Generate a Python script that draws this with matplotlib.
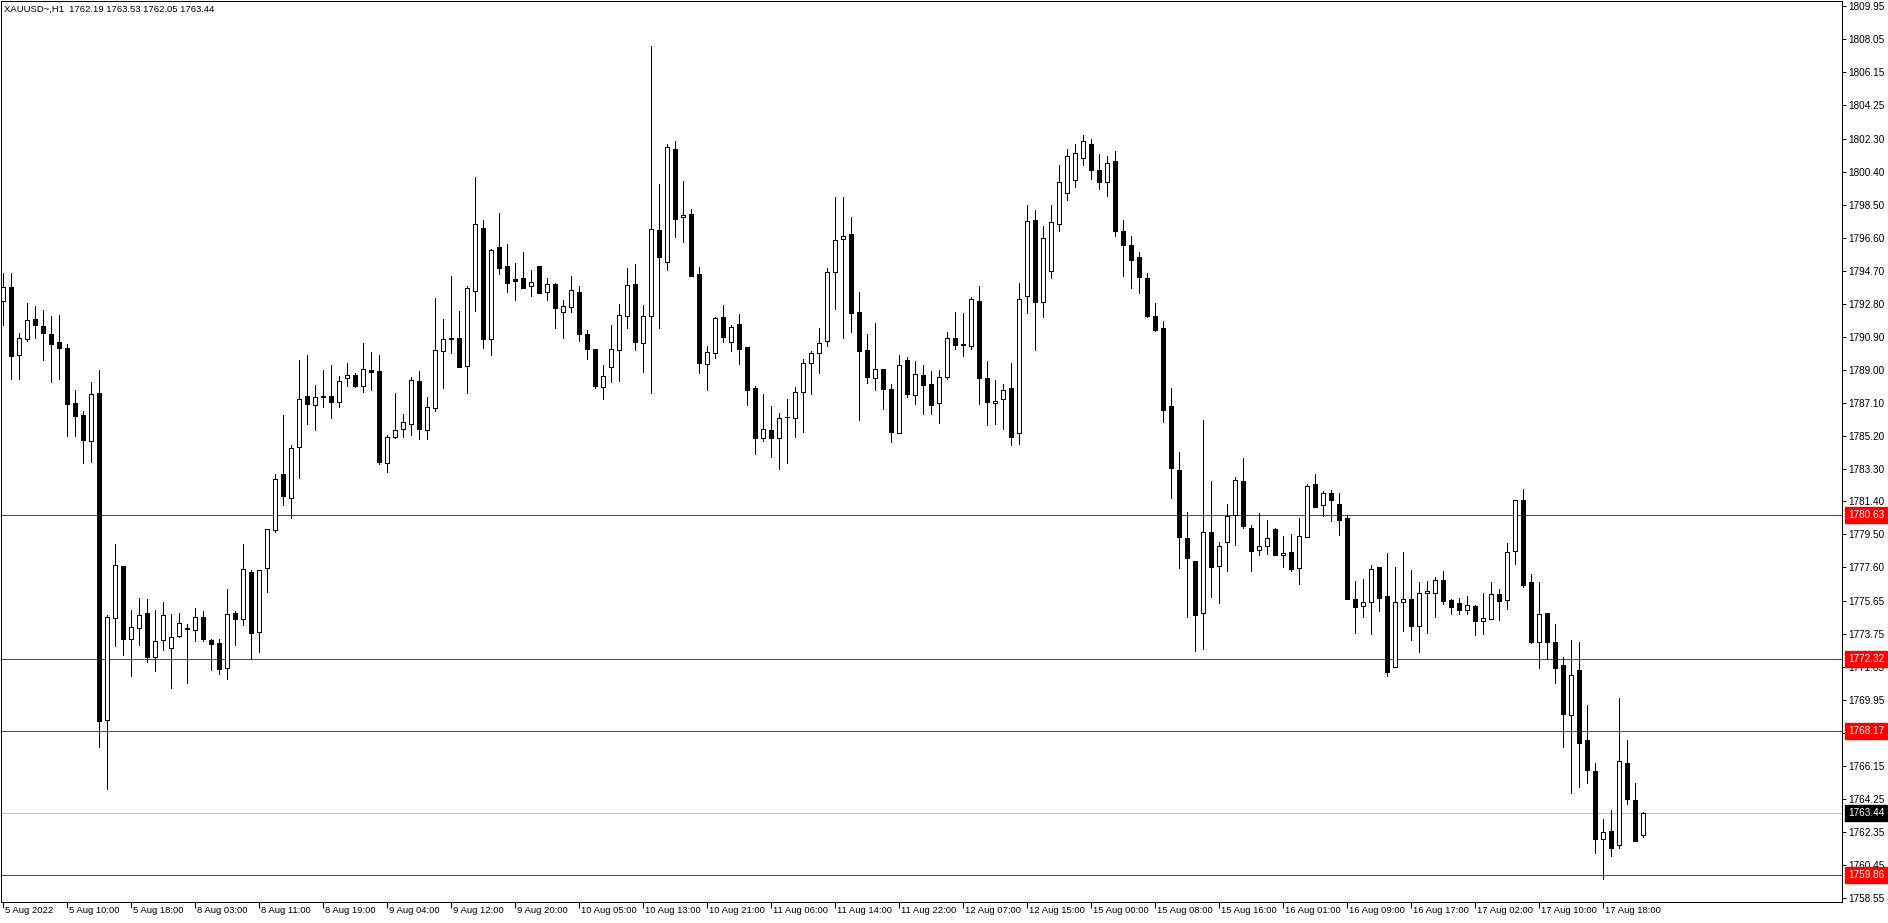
import numpy as np
import matplotlib
matplotlib.use("Agg")
import matplotlib.pyplot as plt
from matplotlib.transforms import blended_transform_factory

# XAUUSD H1 candles, 5 Aug 02:00 .. 17 Aug 23:00
opens = [1792.94, 1793.77, 1789.83, 1790.76, 1791.91, 1791.49, 1791.06, 1790.60, 1790.24, 1787.10,
         1786.41, 1784.88, 1787.67, 1768.80, 1774.67, 1777.70, 1773.47, 1774.10, 1774.97, 1772.46,
         1773.41, 1772.95, 1773.62, 1774.10, 1773.98, 1774.73, 1773.44, 1773.24, 1771.80, 1774.97,
         1774.63, 1777.33, 1773.88, 1777.56, 1779.75, 1783.00, 1781.60, 1784.53, 1787.48, 1786.98,
         1787.48, 1787.48, 1787.13, 1788.51, 1788.69, 1788.05, 1788.97, 1788.92, 1783.63, 1785.11,
         1785.59, 1785.88, 1788.34, 1785.50, 1786.77, 1790.07, 1790.80, 1790.80, 1789.23, 1793.55,
         1797.14, 1790.74, 1796.06, 1794.97, 1794.20, 1794.26, 1793.84, 1794.97, 1793.45, 1793.91,
         1792.30, 1792.62, 1793.49, 1791.03, 1790.17, 1787.98, 1789.13, 1790.13, 1792.11, 1793.91,
         1790.55, 1792.11, 1797.02, 1795.18, 1801.71, 1797.77, 1797.95, 1794.49, 1789.30, 1789.97,
         1792.05, 1790.61, 1791.61, 1790.30, 1787.92, 1785.04, 1785.52, 1785.04, 1786.25, 1786.19,
         1787.73, 1789.36, 1789.93, 1790.65, 1794.60, 1796.50, 1796.79, 1792.30, 1790.11, 1788.50,
         1789.01, 1787.86, 1785.33, 1789.55, 1787.54, 1788.69, 1788.17, 1787.09, 1788.55, 1790.80,
         1790.45, 1790.36, 1792.95, 1788.50, 1787.05, 1787.29, 1787.92, 1785.33, 1793.22, 1797.60,
         1792.87, 1794.66, 1797.40, 1799.20, 1799.90, 1801.20, 1802.00, 1800.50, 1799.80, 1801.00,
         1797.00, 1796.20, 1795.50, 1794.26, 1792.07, 1791.38, 1786.88, 1783.20, 1779.28, 1777.95,
         1774.97, 1779.62, 1777.66, 1779.05, 1780.60, 1782.56, 1779.90, 1778.58, 1778.81, 1779.81,
         1778.29, 1778.48, 1777.54, 1779.33, 1782.40, 1781.17, 1781.88, 1781.25, 1780.44, 1775.78,
         1775.35, 1775.58, 1777.62, 1775.93, 1771.84, 1775.58, 1775.78, 1774.20, 1776.10, 1776.12,
         1776.89, 1775.73, 1775.54, 1775.12, 1775.39, 1774.54, 1774.62, 1776.06, 1775.70, 1778.54,
         1781.48, 1776.75, 1773.30, 1774.98, 1773.30, 1771.99, 1769.07, 1771.70, 1767.67, 1765.88,
         1761.93, 1762.41, 1761.58, 1766.32, 1764.19, 1762.19]
highs = [1794.56, 1794.56, 1791.12, 1792.84, 1792.64, 1792.44, 1792.08, 1792.14, 1790.46, 1787.83,
         1786.60, 1788.31, 1788.98, 1774.83, 1778.93, 1777.70, 1775.13, 1775.82, 1775.76, 1775.13,
         1775.58, 1774.89, 1774.97, 1774.34, 1775.27, 1775.09, 1773.49, 1773.49, 1776.38, 1775.09,
         1778.97, 1777.47, 1777.43, 1779.81, 1783.00, 1786.36, 1784.67, 1789.53, 1789.86, 1788.09,
         1788.99, 1789.24, 1788.63, 1789.40, 1788.82, 1790.55, 1790.03, 1789.86, 1785.21, 1787.67,
         1786.46, 1788.57, 1788.92, 1787.44, 1793.10, 1791.91, 1794.39, 1792.38, 1793.84, 1800.08,
         1797.62, 1795.93, 1798.00, 1796.22, 1795.12, 1795.78, 1794.74, 1794.97, 1794.30, 1793.99,
         1793.01, 1794.39, 1793.82, 1791.28, 1790.17, 1789.26, 1791.57, 1792.76, 1794.83, 1795.06,
         1792.72, 1807.66, 1799.67, 1802.00, 1802.17, 1799.87, 1798.25, 1794.89, 1790.36, 1792.01,
         1792.72, 1791.57, 1792.20, 1790.30, 1788.05, 1787.57, 1786.90, 1786.48, 1787.29, 1788.02,
         1789.59, 1790.07, 1791.38, 1794.83, 1798.94, 1798.94, 1797.77, 1793.45, 1791.03, 1791.67,
         1789.01, 1788.15, 1789.84, 1789.70, 1789.49, 1789.26, 1788.92, 1788.97, 1791.18, 1792.30,
         1792.24, 1793.16, 1793.82, 1789.49, 1788.40, 1788.17, 1789.36, 1793.97, 1798.48, 1798.20,
         1797.30, 1798.50, 1800.80, 1801.70, 1802.00, 1802.50, 1802.30, 1801.40, 1801.30, 1801.60,
         1797.60, 1796.70, 1795.80, 1794.57, 1792.84, 1791.78, 1787.94, 1784.23, 1780.77, 1777.95,
         1786.10, 1782.56, 1779.05, 1781.25, 1782.81, 1783.90, 1780.02, 1780.73, 1780.31, 1779.90,
         1779.42, 1779.52, 1780.44, 1782.40, 1782.98, 1781.98, 1782.04, 1781.88, 1780.64, 1776.83,
         1776.93, 1777.75, 1777.62, 1778.43, 1777.65, 1778.46, 1777.43, 1776.75, 1776.79, 1777.04,
         1777.41, 1775.79, 1775.85, 1775.98, 1775.41, 1776.14, 1776.75, 1776.37, 1779.02, 1781.48,
         1782.13, 1777.23, 1776.75, 1774.98, 1774.35, 1772.43, 1773.43, 1773.32, 1769.70, 1766.34,
         1763.08, 1763.63, 1770.07, 1767.67, 1765.19, 1763.53]
lows = [1791.55, 1788.48, 1788.48, 1790.62, 1790.80, 1789.57, 1788.27, 1788.44, 1785.16, 1785.16,
        1783.62, 1783.68, 1767.25, 1764.84, 1773.05, 1772.55, 1771.37, 1773.15, 1772.16, 1771.66,
        1772.85, 1770.67, 1773.58, 1770.93, 1773.35, 1773.35, 1771.67, 1771.44, 1771.15, 1773.11,
        1774.26, 1772.34, 1772.73, 1776.18, 1779.64, 1781.18, 1780.45, 1782.75, 1785.88, 1785.50,
        1786.82, 1786.21, 1786.82, 1788.03, 1787.98, 1787.69, 1787.80, 1783.58, 1783.10, 1785.06,
        1785.11, 1785.21, 1785.00, 1785.00, 1786.60, 1787.96, 1789.93, 1789.17, 1787.67, 1792.40,
        1790.22, 1789.84, 1794.53, 1793.49, 1793.01, 1793.72, 1793.26, 1793.43, 1793.01, 1791.38,
        1790.80, 1792.34, 1790.65, 1789.59, 1787.96, 1787.29, 1788.30, 1788.36, 1791.38, 1790.13,
        1788.88, 1787.63, 1791.38, 1794.74, 1796.66, 1796.37, 1794.41, 1788.78, 1787.82, 1789.69,
        1790.61, 1790.07, 1789.34, 1786.96, 1784.14, 1784.90, 1783.98, 1783.25, 1783.64, 1785.13,
        1785.42, 1787.57, 1788.78, 1790.38, 1792.47, 1790.80, 1791.18, 1786.12, 1788.25, 1787.82,
        1786.71, 1784.81, 1785.33, 1787.44, 1786.99, 1786.46, 1786.42, 1785.90, 1788.44, 1790.19,
        1789.76, 1790.17, 1786.99, 1785.81, 1785.84, 1785.56, 1784.65, 1784.69, 1792.24, 1790.15,
        1792.05, 1794.30, 1797.00, 1798.80, 1799.50, 1800.80, 1800.00, 1799.40, 1799.00, 1796.70,
        1794.41, 1793.68, 1793.39, 1792.01, 1791.24, 1786.00, 1781.62, 1777.55, 1774.73, 1772.77,
        1772.90, 1775.88, 1775.53, 1777.41, 1778.91, 1779.87, 1777.37, 1778.33, 1778.39, 1778.33,
        1777.62, 1777.41, 1776.66, 1779.33, 1781.11, 1780.58, 1780.29, 1779.48, 1775.79, 1773.82,
        1774.74, 1773.78, 1775.10, 1771.32, 1771.84, 1773.95, 1773.43, 1772.70, 1773.82, 1774.77,
        1775.50, 1774.89, 1774.89, 1774.93, 1773.68, 1773.78, 1774.62, 1774.58, 1775.22, 1777.77,
        1776.50, 1773.26, 1771.83, 1772.33, 1770.93, 1767.23, 1764.59, 1764.94, 1765.19, 1761.16,
        1759.62, 1760.95, 1761.46, 1763.98, 1761.81, 1762.05]
closes = [1793.77, 1789.81, 1790.82, 1791.85, 1791.55, 1791.10, 1790.50, 1790.22, 1787.00, 1786.31,
          1784.92, 1787.59, 1768.74, 1774.77, 1777.76, 1773.50, 1774.14, 1774.83, 1772.46, 1773.35,
          1774.83, 1773.60, 1774.37, 1774.06, 1774.77, 1773.45, 1773.17, 1771.77, 1774.92, 1774.61,
          1777.51, 1773.82, 1777.43, 1779.81, 1782.69, 1781.70, 1784.48, 1787.32, 1787.02, 1787.42,
          1787.44, 1787.13, 1788.34, 1788.69, 1788.03, 1789.03, 1788.86, 1783.67, 1785.11, 1785.50,
          1785.98, 1788.42, 1785.60, 1786.82, 1790.13, 1790.74, 1790.78, 1789.17, 1793.68, 1797.37,
          1790.74, 1795.89, 1794.87, 1794.01, 1794.12, 1793.72, 1794.07, 1793.43, 1793.91, 1792.53,
          1792.68, 1793.57, 1791.03, 1790.17, 1788.07, 1788.65, 1790.17, 1792.15, 1793.85, 1790.61,
          1792.07, 1797.08, 1795.51, 1801.81, 1797.70, 1797.91, 1794.41, 1789.40, 1790.03, 1791.95,
          1790.90, 1791.43, 1790.21, 1787.82, 1785.08, 1785.56, 1785.04, 1786.19, 1786.27, 1787.73,
          1789.36, 1789.97, 1790.55, 1794.60, 1796.45, 1796.72, 1792.24, 1790.09, 1788.59, 1789.01,
          1787.86, 1785.38, 1789.26, 1787.57, 1788.73, 1788.11, 1786.96, 1788.59, 1790.80, 1790.42,
          1790.40, 1793.05, 1788.50, 1787.11, 1787.19, 1787.80, 1785.10, 1793.05, 1797.58, 1792.87,
          1796.60, 1797.50, 1799.80, 1801.30, 1801.50, 1802.20, 1800.50, 1799.80, 1800.90, 1797.00,
          1796.20, 1795.30, 1794.32, 1792.11, 1791.28, 1786.69, 1783.31, 1779.34, 1778.16, 1774.88,
          1779.62, 1777.61, 1778.85, 1780.58, 1782.61, 1780.00, 1778.56, 1778.81, 1779.27, 1778.33,
          1778.43, 1777.50, 1779.39, 1782.32, 1781.11, 1781.88, 1781.46, 1780.35, 1775.79, 1775.33,
          1775.58, 1777.50, 1775.83, 1771.59, 1775.58, 1775.78, 1774.20, 1776.10, 1776.24, 1776.89,
          1775.64, 1775.31, 1775.12, 1775.45, 1774.54, 1774.68, 1776.06, 1775.64, 1778.48, 1781.48,
          1776.56, 1773.33, 1774.91, 1773.33, 1771.83, 1769.13, 1771.39, 1767.50, 1765.90, 1761.93,
          1762.35, 1761.46, 1766.42, 1764.27, 1761.81, 1763.44]

time_labels = ["5 Aug 2022", "5 Aug 10:00", "5 Aug 18:00", "8 Aug 03:00", "8 Aug 11:00",
               "8 Aug 19:00", "9 Aug 04:00", "9 Aug 12:00", "9 Aug 20:00", "10 Aug 05:00",
               "10 Aug 13:00", "10 Aug 21:00", "11 Aug 06:00", "11 Aug 14:00", "11 Aug 22:00",
               "12 Aug 07:00", "12 Aug 15:00", "15 Aug 00:00", "15 Aug 08:00", "15 Aug 16:00",
               "16 Aug 01:00", "16 Aug 09:00", "16 Aug 17:00", "17 Aug 02:00", "17 Aug 10:00",
               "17 Aug 18:00"]
price_ticks = [1809.95, 1808.05, 1806.15, 1804.25, 1802.30, 1800.40, 1798.50, 1796.60, 1794.70,
               1792.80, 1790.90, 1789.00, 1787.10, 1785.20, 1783.30, 1781.40, 1779.50, 1777.60,
               1775.65, 1773.75, 1771.85, 1769.95, 1768.05, 1766.15, 1764.25, 1762.35, 1760.45,
               1758.55]
levels = [1780.63, 1772.32, 1768.17, 1759.86]
last_price = 1763.44
header = "XAUUSD~,H1  1762.19 1763.53 1762.05 1763.44"

FONT = "Liberation Sans"
FS = 6.8

o = np.array(opens); h = np.array(highs); l = np.array(lows); c = np.array(closes)
x = np.arange(len(o))
up = c >= o

W, H = 1888, 923
fig = plt.figure(figsize=(W / 100, H / 100), dpi=100)
ax = fig.add_axes([1 / W, 1 - 902 / H, 1841 / W, 901 / H])
ax.set_xlim(-0.25, 229.875)
ax.set_ylim(1758.32, 1810.24)

lw = 0.72
ax.vlines(x, l, h, colors="black", linewidth=lw, zorder=2, antialiased=False)
body_up = np.maximum(c[up] - o[up], 0.01)
body_dn = np.maximum(o[~up] - c[~up], 0.01)
ax.bar(x[up], body_up, bottom=o[up], width=0.62, facecolor="white", edgecolor="black",
       linewidth=lw, zorder=3, antialiased=False)
ax.bar(x[~up], body_dn, bottom=c[~up], width=0.62, facecolor="black", edgecolor="black",
       linewidth=lw, zorder=3, antialiased=False)

for lv in levels:
    ax.axhline(lv, color="red", linewidth=lw, zorder=1)
ax.axhline(last_price, color="#c0c0c0", linewidth=lw, zorder=1)

# axes frame and ticks
for s in ax.spines.values():
    s.set_linewidth(lw)
    s.set_color("black")
ax.yaxis.tick_right()
ax.set_yticks(price_ticks)
ax.set_yticklabels([f"{p:.2f}" for p in price_ticks], fontsize=7.2, family=FONT)
ax.tick_params(axis="y", direction="out", length=3, width=lw, pad=1.5)
ax.set_xticks(range(0, 8 * len(time_labels), 8))
ax.set_xticklabels([])
ax.tick_params(axis="x", direction="out", length=4, width=lw)

for i, lab in enumerate(time_labels):
    ax.annotate(lab, xy=(8 * i, 0), xycoords=("data", "axes fraction"),
                xytext=(2, -4), textcoords="offset pixels", ha="left", va="top",
                fontsize=FS, family=FONT, annotation_clip=False)

tr = blended_transform_factory(ax.transAxes, ax.transData)
for lv in levels:
    ax.annotate(f"{lv:.2f}", xy=(1, lv), xycoords=tr, xytext=(6, 0),
                textcoords="offset pixels", ha="left", va="center", color="white",
                fontsize=7.2, family=FONT, annotation_clip=False, zorder=10,
                bbox=dict(boxstyle="square,pad=0.3", fc="red", ec="red"))
ax.annotate(f"{last_price:.2f}", xy=(1, last_price), xycoords=tr, xytext=(6, 0),
            textcoords="offset pixels", ha="left", va="center", color="white",
            fontsize=7.2, family=FONT, annotation_clip=False, zorder=10,
            bbox=dict(boxstyle="square,pad=0.3", fc="black", ec="black"))

fig.text(4 / W, 1 - 9 / H, header, fontsize=FS, family=FONT, ha="left", va="center")

fig.savefig("out.png", dpi=100)
